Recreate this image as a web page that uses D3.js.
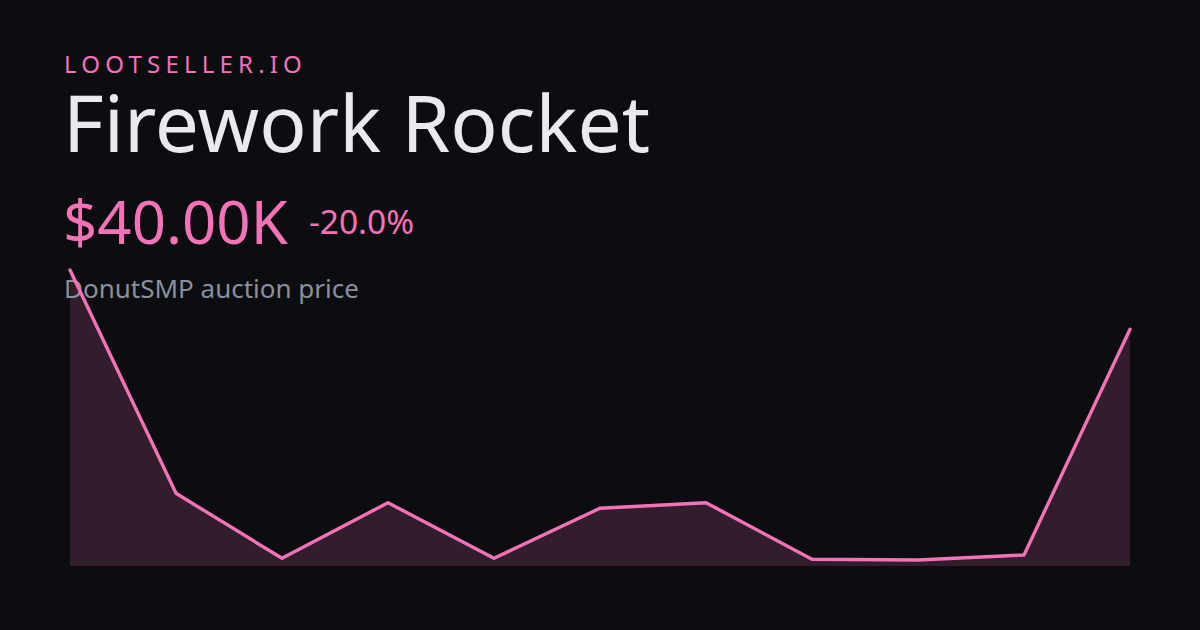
<!DOCTYPE html>
<html><head><meta charset="utf-8">
<script src="https://cdn.jsdelivr.net/npm/d3@7/dist/d3.min.js"></script>
<style>html,body{margin:0;padding:0;background:#0c0d10;}svg{display:block;}</style>
</head><body>
<svg id="c" width="1200" height="630"></svg>
<script>
const brand = "LOOTSELLER.IO";
const itemName = "Firework Rocket";
const priceLabel = "$40.00K";
const changeLabel = "-20.0%";
const subtitle = "DonutSMP auction price";
const days = [0,1,2,3,4,5,6,7,8,9,10];
const prices = [50000,12280,1300,10690,1300,9750,10690,1130,1010,1860,40000];

const W = 1200, H = 630;
const svg = d3.select("#c");
svg.append("rect").attr("width",W).attr("height",H).attr("fill","#0c0d10");
const pink = "#f472b6";
const font = "'Noto Sans', 'Open Sans', sans-serif";

const x = d3.scaleLinear().domain(d3.extent(days)).range([70,1130]);
const y = d3.scaleLinear().domain([0,d3.max(prices)]).range([566,270]);
const data = days.map((d,i)=>({d, v: prices[i]}));

svg.append("path").datum(data)
  .attr("d", d3.area().x(p=>x(p.d)).y0(y(0)).y1(p=>y(p.v)))
  .attr("fill", pink).attr("fill-opacity", 0.17);

svg.append("text").attr("x",64).attr("y",73).text(brand)
  .attr("font-family",font).attr("font-size",24).attr("letter-spacing","5.2px").attr("fill",pink);
svg.append("text").attr("x",63).attr("y",152).text(itemName)
  .attr("font-family",font).attr("font-size",78.5).attr("fill","#e8eaef");
svg.append("text").attr("x",63).attr("y",244).text(priceLabel)
  .attr("font-family",font).attr("font-size",60).attr("fill",pink);
svg.append("text").attr("x",309).attr("y",234).text(changeLabel)
  .attr("font-family",font).attr("font-size",33.5).attr("fill",pink);
svg.append("text").attr("x",64).attr("y",298).text(subtitle)
  .attr("font-family",font).attr("font-size",26).attr("fill","#8a909f");

svg.append("path").datum(data)
  .attr("d", d3.line().x(p=>x(p.d)).y(p=>y(p.v)))
  .attr("fill","none").attr("stroke",pink).attr("stroke-width",3.4).attr("stroke-linejoin","round").attr("stroke-linecap","round");
</script>
</body></html>
